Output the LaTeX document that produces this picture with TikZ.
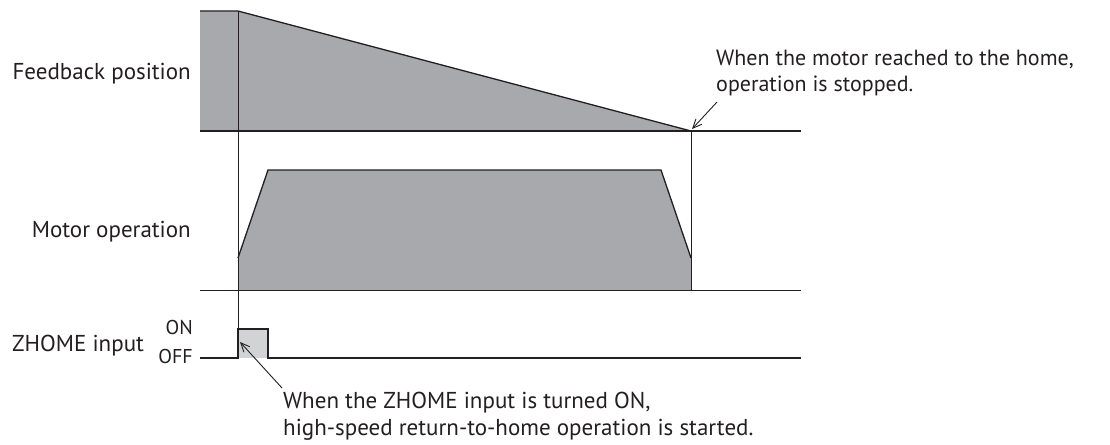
\documentclass[tikz,border=0pt]{standalone}
\usepackage{fontspec}
\setmainfont{PT Sans}
\usetikzlibrary{arrows.meta}
\definecolor{ink}{HTML}{231F20}
\definecolor{darkfill}{HTML}{A7A9AC}
\definecolor{lightfill}{HTML}{D1D3D4}
\tikzset{
  lbl/.style={inner sep=0pt, anchor=base west, text=ink, font=\fontsize{23}{27}\selectfont},
  lblr/.style={lbl, anchor=base east},
  axis/.style={draw=ink, line width=1.3pt},
  wave/.style={draw=ink, line width=1.3pt, line join=miter},
  callout/.style={draw=ink, line width=0.9pt, -{Straight Barb[length=9pt,width=8pt,line width=0.9pt]}}
}
\begin{document}
\begin{tikzpicture}[x=1pt,y=-1pt]
\useasboundingbox (0,0) rectangle (1110,444);
% fills
\fill[darkfill] (200,11) -- (238,11) -- (691,131) -- (200,131) -- cycle;
\fill[darkfill] (238,290) -- (238,258) -- (268,170) -- (661,170) -- (691,258) -- (691,290) -- cycle;
\fill[lightfill] (238,358) -- (238,329) -- (268,329) -- (268,358) -- cycle;
% axes
\draw[axis] (200,131) -- (801,131);
\draw[axis] (200,290.5) -- (801,290.5);
% waves
\draw[wave] (200,11) -- (238,11) -- (691,131);
\draw[wave] (238,258) -- (268,170) -- (661,170) -- (691,258);
\draw[wave] (200,358) -- (238,358) -- (238,329) -- (268,329) -- (268,358) -- (801,358);
% timing lines
\draw[draw=ink, line width=1pt] (238,11) -- (238,358);
\draw[draw=ink, line width=1pt] (691,131) -- (691,290.5);
% labels
\node[lblr] (fb) at (191,79) {Feedback position};
\node[lblr] (mo) at (191,237) {Motor operation};
\node[lbl] (zh) at (12,351) {ZHOME input};
\node[lblr, font=\fontsize{20}{24}\selectfont] (on) at (193,334) {ON};
\node[lblr, font=\fontsize{20}{24}\selectfont] (off) at (193,363) {OFF};
% notes
\node[lbl, font=\fontsize{22}{27}\selectfont] (n1a) at (716,65) {When the motor reached to the home,};
\node[lbl, font=\fontsize{22}{27}\selectfont] (n1b) at (716,92) {operation is stopped.};
\node[lbl] (n2a) at (283,408) {When the ZHOME input is turned ON,};
\node[lbl] (n2b) at (283,435) {high-speed return-to-home operation is started.};
\coordinate (a1s) at (717,102);
\coordinate (a1e) at (692,129);
\coordinate (a2s) at (282,388);
\coordinate (a2e) at (240,342);
\draw[callout] (a1s) -- (a1e);
\draw[callout] (a2s) -- (a2e);
\end{tikzpicture}
\end{document}
